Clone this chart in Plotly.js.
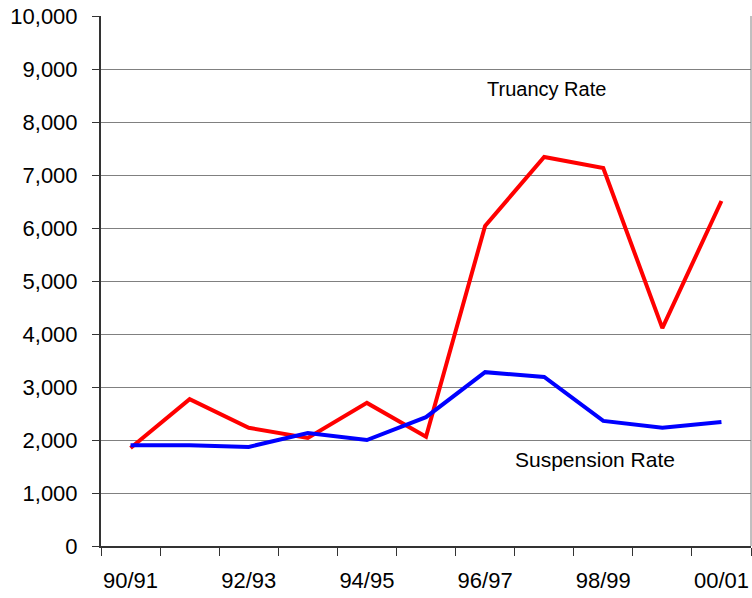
<!DOCTYPE html>
<html>
<head>
<meta charset="utf-8">
<script src="https://cdn.plot.ly/plotly-3.0.1.min.js"></script>
<style>html,body{margin:0;padding:0;background:#fff;}#chart{width:752px;height:598px;}</style>
</head>
<body>
<div id="chart"></div>
<script>
const years = ["90/91","91/92","92/93","93/94","94/95","95/96","96/97","97/98","98/99","99/00","00/01"];
const truancyRate = [1850, 2770, 2230, 2040, 2700, 2060, 6040, 7340, 7130, 4110, 6510];
const suspensionRate = [1900, 1900, 1870, 2130, 2000, 2430, 3280, 3190, 2360, 2230, 2340];
const tickLabels = years.map((y, i) => i % 2 === 0 ? y : "");

const font = "Arial, 'Liberation Sans', sans-serif";

const traces = [
  {x: years, y: truancyRate, type: "scatter", mode: "lines", name: "Truancy Rate",
   line: {color: "#ff0000", width: 4}},
  {x: years, y: suspensionRate, type: "scatter", mode: "lines", name: "Suspension Rate",
   line: {color: "#0000ff", width: 4}}
];

const layout = {
  width: 752, height: 598,
  margin: {l: 101, r: 1, t: 16, b: 52},
  paper_bgcolor: "#fff", plot_bgcolor: "#fff",
  showlegend: false,
  font: {family: font, size: 22, color: "#000"},
  xaxis: {
    type: "category",
    tickmode: "array", tickvals: years, ticktext: tickLabels,
    tickson: "boundaries",
    tickangle: 0,
    ticks: "outside", ticklen: 8, tickcolor: "#333", tickwidth: 1,
    ticklabelstandoff: 14,
    showline: true, linecolor: "#333", linewidth: 2,
    showgrid: false, zeroline: false,
    tickfont: {family: font, size: 22, color: "#000"},
    range: [-0.5, 10.5]
  },
  yaxis: {
    range: [0, 10000], dtick: 1000, tick0: 0,
    tickformat: ",d",
    ticks: "outside", ticklen: 7, tickcolor: "#333",
    ticklabelstandoff: 10,
    showline: true, linecolor: "#333", linewidth: 2,
    showgrid: true, gridcolor: "#808080", gridwidth: 1,
    zeroline: false,
    tickfont: {family: font, size: 22, color: "#000"}
  },
  shapes: [
    {type: "line", xref: "paper", yref: "paper", x0: 1, x1: 1, y0: 0, y1: 1,
     line: {color: "#808080", width: 1}}
  ],
  annotations: [
    {text: "Truancy Rate", xref: "paper", yref: "y", x: 0.686, y: 8620,
     xanchor: "center", yanchor: "middle",
     showarrow: false, font: {family: font, size: 20, color: "#000"}},
    {text: "Suspension Rate", xref: "paper", yref: "y", x: 0.76, y: 1640,
     xanchor: "center", yanchor: "middle",
     showarrow: false, font: {family: font, size: 21, color: "#000"}}
  ]
};

Plotly.newPlot("chart", traces, layout, {displayModeBar: false, staticPlot: true});
</script>
</body>
</html>
